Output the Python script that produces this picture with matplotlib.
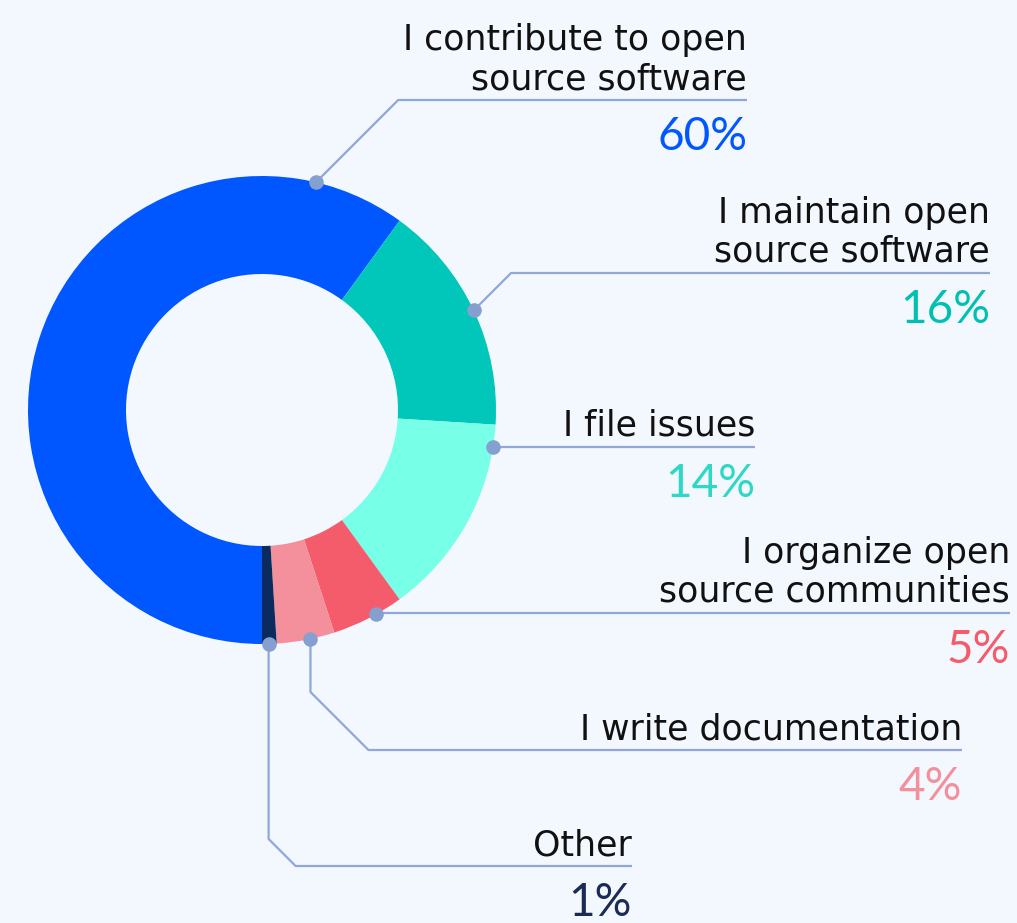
import numpy as np
import matplotlib
matplotlib.use("Agg")
import matplotlib.pyplot as plt

labels = ["I contribute to open\nsource software", "I maintain open\nsource software",
          "I file issues", "I organize open\nsource communities",
          "I write documentation", "Other"]
shares = [60, 16, 14, 5, 4, 1]
colors = ["#0057FF", "#00C7B9", "#78FFE8", "#F45C6B", "#F3909B", "#0B2B5E"]
pct_colors = ["#0057FF", "#00C0B2", "#2ED8C4", "#F45C6B", "#F3909B", "#1A2B55"]

# layout (pixels, origin top-left)
W, H = 1017, 923
cx, cy, R, r_in = 262, 410, 234, 136
anchor_frac = [0.105, 0.5, 0.89, 0.62, 0.58, 0.45]   # where on the wedge arc the dot sits
line_y = [100, 273, 447, 613, 750, 866]               # y of horizontal leader
label_right = [747, 990, 755, 1010, 962, 632]
drop_diag = [None, None, None, None, 58, 27]          # vertical drop then 45deg diagonal

bg = "#F3F7FE"
line_c = "#8FA8D8"
dot_c = "#859FCF"

fig = plt.figure(figsize=(W / 100, H / 100), dpi=100, facecolor=bg)
ax = fig.add_axes([0, 0, 1, 1])
ax.set_facecolor(bg)
ax.axis("off")

def Y(y):
    return H - y

wedges, _ = ax.pie(shares, colors=colors, startangle=-90, counterclock=False,
                   center=(cx, Y(cy)), radius=R,
                   wedgeprops=dict(width=R - r_in, linewidth=0))
ax.set_xlim(0, W)
ax.set_ylim(0, H)
ax.set_aspect("equal")

for i, w in enumerate(wedges):
    t1, t2 = w.theta1, w.theta2
    ang = np.deg2rad(t1 + anchor_frac[i] * (t2 - t1))
    x0 = cx + R * np.cos(ang)
    y0 = cy - R * np.sin(ang)  # pixel y
    yl = line_y[i]
    xs, ys = [x0], [y0]
    if drop_diag[i] is not None:
        d = drop_diag[i]
        xs += [x0, x0 + d]
        ys += [yl - d, yl]
    elif abs(y0 - yl) > 3:
        xs.append(x0 + abs(y0 - yl))
        ys.append(yl)
    else:
        ys[0] = yl
    xs.append(label_right[i])
    ys.append(yl)
    ax.plot(xs, [Y(v) for v in ys], color=line_c, lw=1.6, zorder=3,
            solid_capstyle="butt")
    ax.scatter([x0], [Y(y0)], s=110, color=dot_c, zorder=4, linewidths=0)

    ax.text(label_right[i], Y(yl - 11), labels[i], ha="right", va="baseline",
            fontsize=25, color="#111111", family="DejaVu Sans",
            linespacing=1.2)
    ax.text(label_right[i], Y(yl + 50), f"{shares[i]}%", ha="right", va="baseline",
            fontsize=33, color=pct_colors[i], family="Lato")

fig.savefig("out.png", dpi=100, facecolor=bg)
